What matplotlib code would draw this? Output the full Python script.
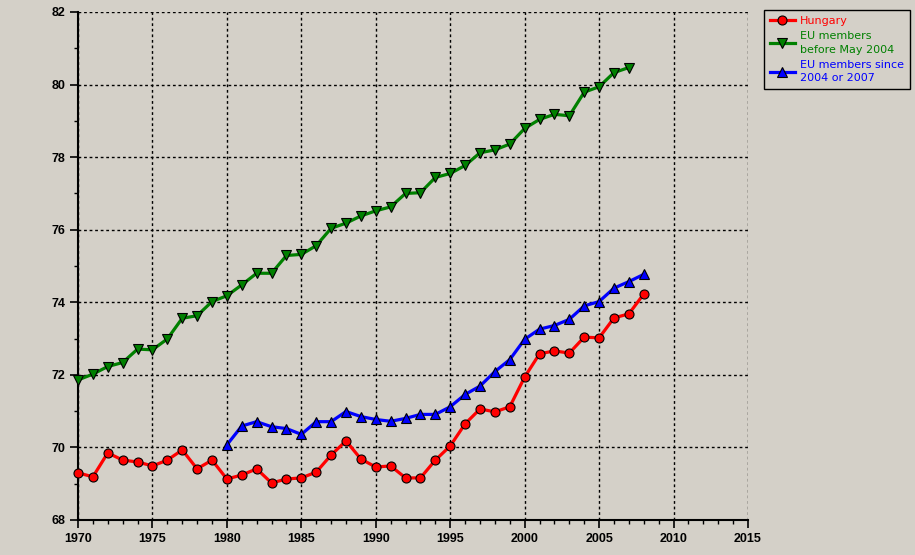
import numpy as np
import matplotlib

matplotlib.use("Agg")
import matplotlib.pyplot as plt
from matplotlib.ticker import MultipleLocator

# ---------------------------------------------------------------------------
# Data (life expectancy at birth, years)
# ---------------------------------------------------------------------------

years_hu = list(range(1970, 2009))
hungary = [69.30, 69.19, 69.85, 69.65, 69.60, 69.49, 69.65, 69.93, 69.41, 69.65,
           69.13, 69.24, 69.41, 69.02, 69.13, 69.16, 69.32, 69.79, 70.18, 69.68,
           69.46, 69.49, 69.16, 69.16, 69.65, 70.04, 70.65, 71.06, 70.98, 71.12,
           71.94, 72.58, 72.66, 72.60, 73.04, 73.02, 73.57, 73.68, 74.23]

years_old = list(range(1970, 2008))
eu_old = [71.86, 72.02, 72.23, 72.34, 72.71, 72.69, 72.99, 73.56, 73.63, 74.02,
          74.18, 74.48, 74.80, 74.80, 75.29, 75.32, 75.56, 76.04, 76.18, 76.38,
          76.52, 76.63, 77.00, 77.02, 77.44, 77.55, 77.77, 78.12, 78.20, 78.36,
          78.79, 79.04, 79.18, 79.14, 79.79, 79.94, 80.33, 80.47]

years_new = list(range(1980, 2009))
eu_new = [70.07, 70.59, 70.71, 70.57, 70.52, 70.36, 70.71, 70.71, 70.99, 70.85,
          70.77, 70.72, 70.80, 70.91, 70.91, 71.12, 71.46, 71.69, 72.09, 72.42,
          72.98, 73.26, 73.36, 73.53, 73.90, 74.02, 74.39, 74.57, 74.77]

labels = ["Hungary", "EU members\nbefore May 2004", "EU members since\n2004 or 2007"]

# ---------------------------------------------------------------------------
# Plot
# ---------------------------------------------------------------------------

BG = "#d4d0c8"
W, H = 915, 555

fig = plt.figure(figsize=(W / 100, H / 100), dpi=100, facecolor=BG)
ax = fig.add_axes([78 / W, (H - 520) / H, (748 - 78) / W, (520 - 12) / H])
ax.set_facecolor(BG)

series = [
    (years_hu, hungary, "#ff0000", "o", 6.5),
    (years_old, eu_old, "#008000", "v", 7),
    (years_new, eu_new, "#0000ff", "^", 7),
]
for (x, y, color, marker, ms), label in zip(series, labels):
    ax.plot(x, y, color=color, linewidth=2.3, marker=marker, markersize=ms,
            markerfacecolor=color, markeredgecolor="black",
            markeredgewidth=0.8, label=label, clip_on=False, zorder=3)

ax.set_xlim(1970, 2015)
ax.set_ylim(68, 82)
ax.xaxis.set_major_locator(MultipleLocator(5))
ax.xaxis.set_minor_locator(MultipleLocator(1))
ax.yaxis.set_major_locator(MultipleLocator(2))
ax.yaxis.set_minor_locator(MultipleLocator(1))

ax.grid(True, which="major", color="black", linestyle=(0, (2, 2)),
        linewidth=1.0)
ax.set_axisbelow(True)

for side in ("top", "right"):
    ax.spines[side].set_visible(False)
for side in ("left", "bottom"):
    ax.spines[side].set_linewidth(1.5)

ax.tick_params(which="major", direction="out", length=6, width=1.2,
               color="black", pad=3)
ax.tick_params(which="minor", direction="out", length=3, width=1.0,
               color="black")
for lab in ax.get_xticklabels() + ax.get_yticklabels():
    lab.set_fontfamily("Liberation Sans")
    lab.set_fontweight("bold")
    lab.set_fontsize(9)

leg = ax.legend(loc="upper left", bbox_to_anchor=(764 / W, 1 - 10 / H),
                bbox_transform=fig.transFigure, frameon=True, fancybox=False,
                facecolor=BG, edgecolor="black", framealpha=1,
                prop={"family": "DejaVu Sans", "size": 8},
                handlelength=2.2, handletextpad=0.45, borderpad=0.55,
                labelspacing=0.45, borderaxespad=0)
leg.get_frame().set_linewidth(1.0)
for text, (_, _, color, _, _) in zip(leg.get_texts(), series):
    text.set_color(color)
    text.set_linespacing(1.45)

fig.savefig("out.png", dpi=100, facecolor=BG)
